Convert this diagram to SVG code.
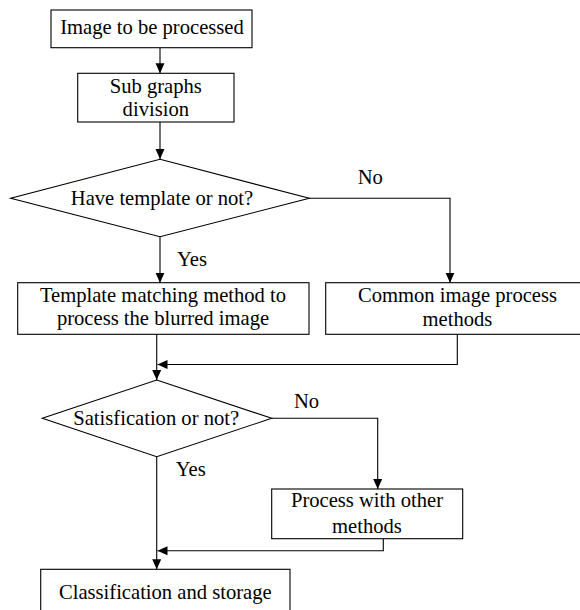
<svg xmlns="http://www.w3.org/2000/svg" width="580" height="610" viewBox="0 0 580 610">
<style>
.n{fill:#fff;stroke:#000;stroke-width:1.1}
.t{font-family:"Liberation Serif","Times New Roman",serif;font-size:20.6px;fill:#000}
.m{text-anchor:middle}
.c{fill:none;stroke:#000;stroke-width:1.1}
</style>
<defs>
<marker id="ah" markerUnits="userSpaceOnUse" markerWidth="10" markerHeight="10" refX="10" refY="5" orient="auto">
<path d="M0,0.5 L10,5 L0,9.5 z" fill="#000"/>
</marker>
</defs>
<rect width="580" height="610" fill="#fff"/>
<g id="connectors">
<path class="c" d="M160,47.7 V73.3" marker-end="url(#ah)"/>
<path class="c" d="M160,122 V159" marker-end="url(#ah)"/>
<path class="c" d="M160,236.7 V282.7" marker-end="url(#ah)"/>
<path class="c" d="M309.3,198.3 H450 V282.7" marker-end="url(#ah)"/>
<path class="c" d="M156.7,334.3 V380" marker-end="url(#ah)"/>
<path class="c" d="M457.3,334.3 V364.5 H157.5" marker-end="url(#ah)"/>
<path class="c" d="M271.7,418.3 H377.7 V489" marker-end="url(#ah)"/>
<path class="c" d="M156.7,456.7 V569.3" marker-end="url(#ah)"/>
<path class="c" d="M383.3,538.7 V550.7 H157.5" marker-end="url(#ah)"/>
<text class="t" x="177" y="266">Yes</text>
<text class="t" x="357.7" y="184.3">No</text>
<text class="t" x="175.7" y="476">Yes</text>
<text class="t" x="294" y="408.3">No</text>
</g>
<g id="start">
<rect class="n" x="51" y="10" width="201" height="37.7"/>
<text class="t m" x="152" y="34.3">Image to be processed</text>
</g>
<g id="division">
<rect class="n" x="77.7" y="73.3" width="156.3" height="48.7"/>
<text class="t m" x="155.8" y="92.7">Sub graphs</text>
<text class="t m" x="155.8" y="116">division</text>
</g>
<g id="decision1">
<polygon class="n" points="160,159.3 309.3,198.3 160,236.7 10.7,198.3"/>
<text class="t m" x="162" y="205">Have template or not?</text>
</g>
<g id="template">
<rect class="n" x="17.7" y="282.7" width="291.3" height="51.6"/>
<text class="t m" x="163" y="302.3">Template matching method to</text>
<text class="t m" x="163" y="325">process the blurred image</text>
</g>
<g id="common">
<rect class="n" x="325.7" y="282.7" width="264" height="51.6"/>
<text class="t m" x="457.5" y="302.3">Common image process</text>
<text class="t m" x="457.5" y="326">methods</text>
</g>
<g id="decision2">
<polygon class="n" points="156.7,380 271.7,418.3 156.7,456.7 42.3,418.3"/>
<text class="t m" x="156.2" y="425">Satisfication or not?</text>
</g>
<g id="other">
<rect class="n" x="271.7" y="489" width="191" height="49.7"/>
<text class="t m" x="367" y="507.3">Process with other</text>
<text class="t m" x="367" y="533.3">methods</text>
</g>
<g id="storage">
<rect class="n" x="40.7" y="569.3" width="249.3" height="50"/>
<text class="t m" x="165.3" y="599.3">Classification and storage</text>
</g>
</svg>
